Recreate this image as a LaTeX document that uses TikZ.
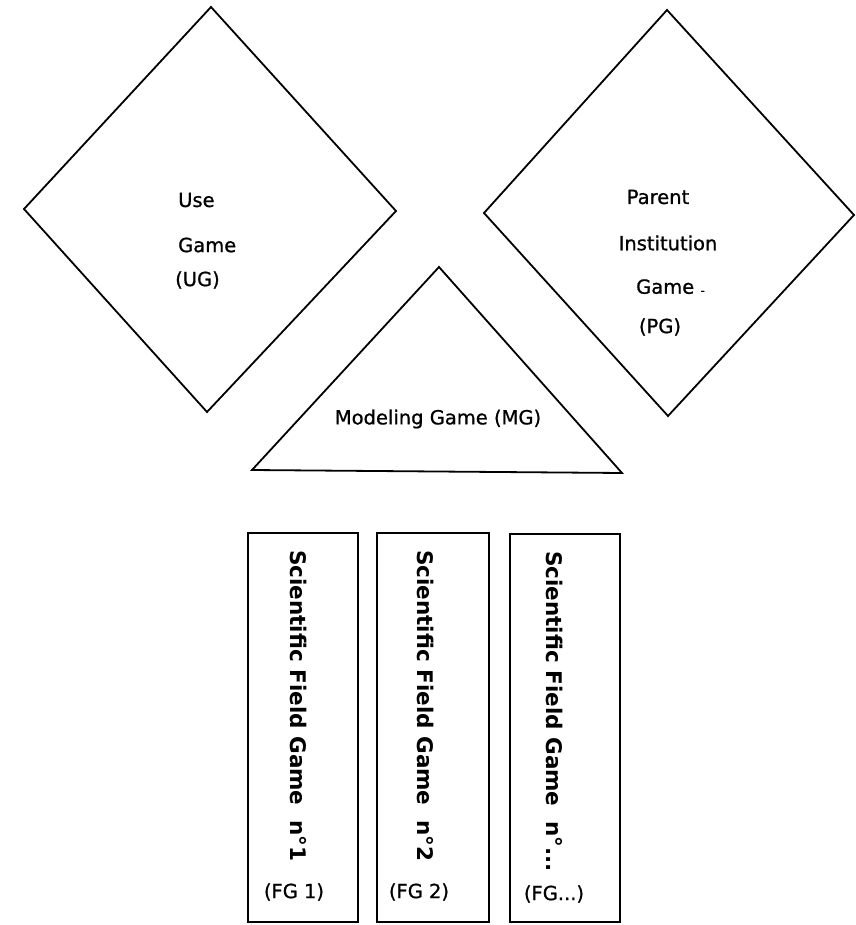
\documentclass[tikz,border=0pt]{standalone}
\usepackage{fontspec}
\setmainfont{DejaVu Sans}
\newfontfamily\lblfont[FakeBold=0.9]{DejaVu Sans}
\begin{document}
\begin{tikzpicture}[x=1pt,y=-1pt,
  shp/.style={draw,line width=1.8pt,line join=miter},
  lbl/.style={inner sep=0pt,font=\lblfont\fontsize{19.5}{22}\selectfont},
  vlbl/.style={inner sep=0pt,rotate=-90,anchor=west,font=\bfseries\fontsize{21.5}{24}\selectfont},
  fglbl/.style={inner sep=0pt,font=\lblfont\fontsize{19.5}{22}\selectfont}]
\useasboundingbox (0,0) rectangle (855,925);
% diamonds
\draw[shp] (211,7) -- (396,211) -- (207,412) -- (24,209) -- cycle;
\draw[shp] (667,10) -- (854,215) -- (668,416) -- (484,213) -- cycle;
% triangle
\draw[shp] (439,267) -- (622,473) -- (252,470) -- cycle;
% rectangles
\draw[shp] (248,533) rectangle (358,922);
\draw[shp] (377,533) rectangle (489,922);
\draw[shp] (510,534) rectangle (620,922);
% UG text
\node[lbl,anchor=west] (ug1) at (178,200) {Use};
\node[lbl,anchor=west] (ug2) at (178,245) {Game};
\node[lbl,anchor=west] (ug3) at (175,280) {(UG)};
% PG text
\node[lbl] (pg1) at (658,197) {Parent};
\node[lbl] (pg2) at (668,243) {Institution};
\node[lbl,anchor=west] (pg3) at (636,287) {Game \raisebox{-1pt}{\fontsize{12}{12}\selectfont -}};
\node[lbl] (pg4) at (660,327) {(PG)};
% MG text
\node[lbl] (mg) at (438,419) {Modeling Game (MG)};
% FG texts
\node[vlbl] (fg1) at (299,550) {Scientific Field Game\ \ n°1};
\node[vlbl] (fg2) at (426,550) {Scientific Field Game\ \ n°2};
\node[vlbl] (fg3) at (555,551) {Scientific Field Game\ \ n°...};
\node[fglbl] (fgs1) at (294,892) {(FG 1)};
\node[fglbl] (fgs2) at (419,892) {(FG 2)};
\node[fglbl] (fgs3) at (554,894) {(FG...)};
\end{tikzpicture}
\end{document}
